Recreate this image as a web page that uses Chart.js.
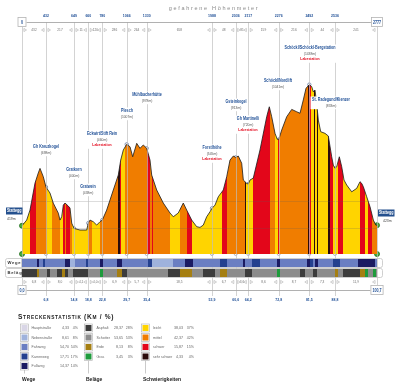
<!DOCTYPE html>
<html><head><meta charset="utf-8">
<script src="https://cdn.jsdelivr.net/npm/chart.js@4.4.1/dist/chart.umd.min.js"></script>
<style>
html,body{margin:0;padding:0;background:#fff;}
#wrap{position:relative;width:400px;height:389px;overflow:hidden;}
canvas{position:absolute;left:0;}
</style></head><body>
<div id="wrap">
<canvas id="main" width="400" height="389" style="top:0"></canvas>
<canvas id="strips" width="400" height="20" style="top:258px"></canvas>
</div>
<script>
// ---------------- DATA ----------------
const TOTAL_KM = 100.7;
const TOTAL_HM = 2777;
const startElev = 419;
const endElev = 423;
const startName = 'Stattegg';

// elevation profile (km, m)
const profKm = [0,1.33,2.27,3.69,4.62,5.11,6.04,6.81,7.94,8.88,10.30,10.78,11.26,11.72,12.20,13.13,13.62,14.10,14.75,16.45,18.35,18.81,19.29,20.22,21.19,22.13,22.78,24.02,25.90,27.32,28.00,28.74,29.70,30.64,31.40,32.54,33.47,34.41,35.37,36.31,36.79,38.21,40.08,41.98,42.92,44.33,45.75,46.72,48.14,49.56,50.49,51.43,52.39,53.33,53.90,54.75,55.68,57.10,58.07,59.00,59.94,60.62,61.36,62.32,62.78,63.74,64.19,64.67,65.61,67.51,69.41,70.15,70.83,71.77,72.42,72.82,73.67,75.09,76.51,77.92,78.86,79.79,80.56,81.50,82.18,82.63,83.11,83.59,84.05,84.73,85.95,86.89,87.85,88.31,88.79,89.27,90.01,90.69,91.34,92.11,93.53,94.94,95.88,96.36,96.82,97.78,98.72,99.66,100.35,100.7];
const profElev = [419,460,532,727,800,833,773,698,655,582,510,460,484,568,583,561,547,438,400,388,388,438,460,448,424,448,460,532,677,785,893,966,1007,989,917,1014,978,1002,978,893,785,677,583,511,484,511,583,532,460,412,407,424,484,520,545,568,628,677,773,893,922,913,922,870,749,725,720,749,763,966,1206,1278,1206,1086,1043,1041,1110,1206,1259,1242,1231,1327,1411,1438,1423,1386,1399,1303,1182,1098,1086,1067,917,857,833,845,917,845,749,713,664,689,737,725,701,628,556,460,424,423];

// waypoints
const wpName = ['Gh Kreuzkogel','Gratkorn','Gratwein','Eckwirt/Stift Rein','Plesch','Mühlbacherhütte','Forstlhöhe','Gsteinkogel','Gh Martinelli','Schöckl/Nordlift','Schöckl/Schöckl-Bergstation','St. Radegund/Kienzer'];
const wpKm = [6.81,14.75,18.81,22.78,29.70,35.37,53.90,60.62,64.19,72.82,81.50,88.79];
const wpElev = [698,400,438,460,1007,978,545,913,720,1041,1438,833];
const wpLabestation = [false,false,false,true,false,false,true,false,true,false,true,false];
const cumHm = [432,649,660,780,1066,1330,1988,2036,2117,2276,2492,2536];
const segHm = [432,217,11,120,286,264,658,48,81,159,216,44,241];
const cumKmLabels = ['6,8','14,8','18,8','22,8','29,7','35,4','53,9','60,6','64,2','72,8','81,5','88,8'];
const segKmLabels = ['6,8','8,0','4,1','4,0','6,9','5,7','18,5','6,7','3,6','8,6','8,7','7,3','11,9'];
const gridElev = [400,600];

// difficulty bands (km breaks, class per band)
const diffBreaks = [0,2.27,3.97,7.01,8.42,10.78,11.63,12.06,12.48,12.91,13.19,13.62,14.10,18.81,19.77,22.13,27.32,27.66,28.22,29.22,35.37,36.31,36.79,37.25,41.98,44.82,46.72,48.14,56.65,58.07,63.26,63.55,65.61,70.35,71.77,72.48,72.90,81.13,81.55,81.98,82.83,83.11,83.54,83.97,86.89,87.37,88.22,89.64,91.06,95.88,97.30,98.15,99.28,100.7];
const diffClass = ['L','S','M','L','M','L','S','M','S','L','S','M','L','M','L','M','X','S','L','M','S','M','S','M','L','M','S','L','S','M','X','L','S','M','L','S','M','X','S','L','X','L','X','L','X','S','L','S','L','S','L','S','M'];

// path type bands
const wegeBreaks = [0,4.25,4.82,5.96,6.52,12.20,13.62,15.03,18.15,18.72,22.13,22.98,26.95,28.37,35.74,36.88,42.83,46.24,48.51,56.16,58.15,62.69,63.26,65.24,67.51,72.33,73.18,80.84,81.69,82.54,83.11,83.97,88.22,90.21,95.31,100.13,100.7];
const wegeClass = ['F','P','F','K','F','P','N','F','K','F','P','F','P','F','K','N','F','P','F','K','F','P','F','K','F','P','F','P','K','F','P','F','K','F','P','F'];

// surface bands
const belagBreaks = [0,4.25,4.82,7.09,7.94,9.93,11.35,12.20,13.05,14.47,18.72,22.13,22.98,26.95,28.37,29.78,41.41,44.82,48.22,51.34,54.75,56.16,58.15,63.26,65.24,72.33,73.18,78.86,80.27,82.54,83.68,88.79,89.64,91.06,95.88,97.30,98.15,99.57,100.42,100.7];
const belagClass = ['A','E','S','A','S','A','E','A','S','A','S','G','S','E','A','S','A','E','S','A','S','E','S','A','S','G','S','A','S','A','S','E','S','A','E','G','S','G','S'];

// statistics
const wegeNames = ['Hauptstraße','Nebenstraße','Fahrweg','Karrenweg','Fußweg'];
const wegeKm = [4.33,8.61,54.70,17.71,14.37];
const wegePct = [4,8,54,17,14];
const belagNames = ['Asphalt','Schotter','Erde','Gras'];
const belagKm = [28.37,53.65,8.13,3.45];
const belagPct = [28,53,8,3];
const diffNames = ['leicht','mittel','schwer','sehr schwer'];
const diffKm = [38.03,42.37,15.87,4.33];
const diffPct = [37,42,15,4];

// ---------------- STYLE ----------------
const DIFF_COLORS = {L:'#FFD400', M:'#F07D00', S:'#E3061A', X:'#2A0B0B'};
const WEGE_COLORS = {H:'#D9D6E6', N:'#9FB2DC', F:'#6A7EC2', K:'#24408F', P:'#1B1B62'};
const BELAG_COLORS = {A:'#3C3C3C', S:'#8C8C8C', E:'#A57F12', G:'#1E9B3C'};
const WEGE_ORDER = ['H','N','F','K','P'];
const BELAG_ORDER = ['A','S','E','G'];
const DIFF_ORDER = ['L','M','S','X'];
const SANS = '"Liberation Sans","DejaVu Sans",sans-serif';
const BLUE = '#1f4f96';
const Y_MIN = 215, Y_MAX = 1890;
const TOP_AXIS_Y = 22, BOTTOM_AXIS_Y = 290;
const SQ = 0.8; // horizontal squeeze for condensed labels
// label anchor positions (layout only)
const LABEL_POS = [[46,147],[74,170],[88,187],[102,134],[127,111],[147,95],[212,148],[236,102],[248,119],[278,81],[310,48],[331,100]];

function hardGradient(g2d, scale, breaks, classes, colors) {
  const x0 = scale.left, x1 = scale.right, w = x1 - x0;
  const g = g2d.createLinearGradient(x0, 0, x1, 0);
  const f = v => Math.min(1, Math.max(0, (scale.getPixelForValue(v) - x0) / w));
  classes.forEach((c, i) => { g.addColorStop(f(breaks[i]), colors[c]); g.addColorStop(f(breaks[i + 1]), colors[c]); });
  return g;
}
function fmt(v) { return v.toFixed(2).replace('.', ','); }
// draw text with optional horizontal squeeze; returns drawn width
function txt(c, s, x, y, font, color, sq, align) {
  sq = sq || 1; align = align || 'center';
  c.save();
  c.font = font; c.fillStyle = color; c.textAlign = align; c.textBaseline = 'middle';
  c.translate(x, y); c.scale(sq, 1); c.fillText(s, 0, 0);
  const w = c.measureText(s).width * sq;
  c.restore();
  return w;
}
function tw(c, s, font, sq) { c.save(); c.font = font; const w = c.measureText(s).width * (sq || 1); c.restore(); return w; }
function tri(c, x, y, dir) {
  c.beginPath();
  c.moveTo(x - 1.3 * dir, y - 1.6); c.lineTo(x + 1.3 * dir, y); c.lineTo(x - 1.3 * dir, y + 1.6); c.closePath();
  c.strokeStyle = '#a0a0a0'; c.lineWidth = 0.5; c.stroke();
}
function box(c, x, y, s) {
  const f = 'bold 4.6px ' + SANS;
  const w = Math.max(9, tw(c, s, f, SQ) + 4);
  c.fillStyle = '#fff'; c.fillRect(x - w / 2, y - 5, w, 10);
  c.strokeStyle = '#b4b4b4'; c.lineWidth = 0.8; c.strokeRect(x - w / 2 + 0.5, y - 4.5, w - 1, 9);
  txt(c, s, x, y + 0.3, f, BLUE, SQ);
}
function hline(c, x0, x1, y, col, lw) { c.beginPath(); c.moveTo(x0, y); c.lineTo(x1, y); c.strokeStyle = col; c.lineWidth = lw; c.stroke(); }

const deco = {
  id: 'deco',
  afterDatasetDraw(chart, args) {
    if (args.index !== 0) return;
    const c = chart.ctx, xs = chart.scales.x, ys = chart.scales.y, a = chart.chartArea;
    c.save();
    gridElev.forEach(v => { const y = Math.round(ys.getPixelForValue(v)) + 0.5; hline(c, a.left, a.right, y, 'rgba(90,90,90,0.3)', 0.7); });
    c.strokeStyle = 'rgba(190,190,190,0.85)'; c.lineWidth = 0.8;
    wpKm.forEach(k => { const x = Math.round(xs.getPixelForValue(k)) + 0.5; c.beginPath(); c.moveTo(x, TOP_AXIS_Y); c.lineTo(x, 296); c.stroke(); });
    [0, TOTAL_KM].forEach(k => { const x = Math.round(xs.getPixelForValue(k)) + 0.5; c.beginPath(); c.moveTo(x, TOP_AXIS_Y); c.lineTo(x, BOTTOM_AXIS_Y); c.stroke(); });
    c.restore();
  },
  afterDraw(chart) {
    const c = chart.ctx, xs = chart.scales.x;
    const X = k => xs.getPixelForValue(k);
    const edges = [0, ...wpKm, TOTAL_KM];
    c.save();
    // title
    c.save();
    c.font = '5.5px ' + SANS; c.fillStyle = '#8a8a8a'; c.letterSpacing = '1.7px';
    c.textAlign = 'center'; c.textBaseline = 'middle';
    c.fillText('gefahrene Höhenmeter', 214, 8);
    c.restore();
    // top axis
    hline(c, X(0), X(TOTAL_KM), TOP_AXIS_Y + 0.5, '#a8a8a8', 0.9);
    wpKm.forEach((k, i) => txt(c, String(cumHm[i]), X(k), 15.5, 'bold 4.4px ' + SANS, BLUE, SQ));
    segHm.forEach((v, i) => txt(c, String(v), (X(edges[i]) + X(edges[i + 1])) / 2, 30, '4px ' + SANS, '#707070', SQ));
    edges.forEach((k, i) => { const x = X(k); if (i > 0) tri(c, x - 3.2, 30, -1); if (i < edges.length - 1) tri(c, x + 3.2, 30, 1); });
    box(c, X(0), TOP_AXIS_Y, '0');
    box(c, X(TOTAL_KM), TOP_AXIS_Y, String(TOTAL_HM));
    // bottom axis
    hline(c, X(0), X(TOTAL_KM), BOTTOM_AXIS_Y + 0.5, '#a8a8a8', 0.9);
    segKmLabels.forEach((v, i) => txt(c, v, (X(edges[i]) + X(edges[i + 1])) / 2, 282, '4px ' + SANS, '#707070', SQ));
    edges.forEach((k, i) => { const x = X(k); if (i > 0) tri(c, x - 3.2, 282, -1); if (i < edges.length - 1) tri(c, x + 3.2, 282, 1); });
    wpKm.forEach((k, i) => txt(c, cumKmLabels[i], X(k), 299.5, 'bold 4.4px ' + SANS, BLUE, SQ));
    box(c, X(0), BOTTOM_AXIS_Y, '0,0');
    box(c, X(TOTAL_KM), BOTTOM_AXIS_Y, String(TOTAL_KM).replace('.', ','));
    // waypoint labels
    wpName.forEach((name, i) => {
      const lines = [[name, 'bold 4.6px ' + SANS, BLUE], ['(' + wpElev[i] + 'm)', '4.2px ' + SANS, '#555']];
      if (wpLabestation[i]) lines.push(['Labestation', 'bold 4.3px ' + SANS, '#E3061A']);
      const cx = LABEL_POS[i][0], cy = LABEL_POS[i][1];
      let w = 0;
      lines.forEach(l => { w = Math.max(w, tw(c, l[0], l[1], SQ)); });
      c.fillStyle = '#fff'; c.fillRect(cx - w / 2 - 1.5, cy - 3.5, w + 3, lines.length * 5.6 + 1.5);
      lines.forEach((l, j) => txt(c, l[0], cx, cy + j * 5.6, l[1], l[2], SQ));
    });
    // start / end names
    const sw = 16.5;
    c.fillStyle = '#24508e'; c.fillRect(X(0) - sw + 0.5, 207.5, sw, 7);
    c.fillRect(X(TOTAL_KM) + 1, 209.5, sw, 7);
    txt(c, startName, X(0) - sw / 2 + 0.5, 211.1, 'bold 4.6px ' + SANS, '#fff', SQ);
    txt(c, startName, X(TOTAL_KM) + 1 + sw / 2, 213.1, 'bold 4.6px ' + SANS, '#fff', SQ);
    txt(c, startElev + 'm', X(0) - 15, 218.5, '4.3px ' + SANS, '#444', SQ, 'left');
    txt(c, endElev + 'm', X(TOTAL_KM) + 6, 220.5, '4.3px ' + SANS, '#444', SQ, 'left');
    // legend title (small caps)
    c.save();
    c.textAlign = 'left'; c.textBaseline = 'alphabetic'; c.fillStyle = '#222';
    c.letterSpacing = '0.7px';
    let tx = 18;
    const parts = [['S', 6.6], ['TRECKENSTATISTIK', 4.8], [' (K', 6.6], ['M', 4.8], [' / %)', 6.6]];
    parts.forEach(p => { c.font = 'bold ' + p[1] + 'px ' + SANS; c.fillText(p[0], tx, 319); tx += c.measureText(p[0]).width; });
    c.restore();
    const rowsY = [328, 337.5, 347, 356.5, 366];
    const cols = [
      {names: wegeNames, km: wegeKm, pct: wegePct, keys: WEGE_ORDER, colors: WEGE_COLORS, sx: 21, nx: 31.5, kx: 69, px: 78, title: 'Wege'},
      {names: belagNames, km: belagKm, pct: belagPct, keys: BELAG_ORDER, colors: BELAG_COLORS, sx: 85, nx: 96.5, kx: 123, px: 133, title: 'Beläge'},
      {names: diffNames, km: diffKm, pct: diffPct, keys: DIFF_ORDER, colors: DIFF_COLORS, sx: 142, nx: 153, kx: 183, px: 194, title: 'Schwierigkeiten'}
    ];
    cols.forEach(col => {
      const n = col.names.length;
      const lastY = rowsY[n - 1];
      c.strokeStyle = '#bdbdbd'; c.lineWidth = 0.8;
      c.beginPath(); c.moveTo(col.sx + 3.5, lastY + 4); c.lineTo(col.sx + 3.5, 373.5); c.stroke();
      col.names.forEach((nm, i) => {
        const y = rowsY[i];
        c.fillStyle = '#fff'; c.fillRect(col.sx - 0.5, y - 4, 8, 8);
        c.strokeStyle = '#b0b0b0'; c.lineWidth = 0.6; c.strokeRect(col.sx - 0.5, y - 4, 8, 8);
        c.fillStyle = col.colors[col.keys[i]]; c.fillRect(col.sx + 0.5, y - 3, 6, 6);
        txt(c, nm, col.nx, y, '3.9px ' + SANS, '#666', 0.92, 'left');
        txt(c, fmt(col.km[i]), col.kx, y, '3.9px ' + SANS, '#666', 0.92, 'right');
        txt(c, col.pct[i] + '%', col.px, y, '3.9px ' + SANS, '#666', 0.92, 'right');
      });
      txt(c, col.title, col.sx + 1, 379.5, 'bold 5px ' + SANS, '#222', 1, 'left');
    });
    c.restore();
  }
};

new Chart(document.getElementById('main'), {
  type: 'line',
  data: {
    datasets: [
      {
        data: profKm.map((k, i) => ({x: k, y: profElev[i]})),
        fill: 'start', borderColor: '#1b1b1b', borderWidth: 0.8, pointRadius: 0, tension: 0,
        backgroundColor: ctx => {
          const ch = ctx.chart;
          if (!ch.chartArea) return 'rgba(0,0,0,0)';
          return hardGradient(ch.ctx, ch.scales.x, diffBreaks, diffClass, DIFF_COLORS);
        }
      },
      {
        data: wpKm.map((k, i) => ({x: k, y: wpElev[i]})), showLine: false,
        pointRadius: 1.7, pointBackgroundColor: '#fff', pointBorderColor: '#6c7fa6', pointBorderWidth: 0.8, clip: false
      },
      {
        data: wpKm.map(k => ({x: k, y: Y_MIN})), showLine: false,
        pointRadius: 1.5, pointBackgroundColor: '#fff', pointBorderColor: '#8a96b0', pointBorderWidth: 0.7, clip: false
      },
      {
        data: [{x: 0, y: startElev}, {x: 0, y: Y_MIN}, {x: TOTAL_KM, y: endElev}, {x: TOTAL_KM, y: Y_MIN}], showLine: false,
        pointRadius: 2.5, pointBackgroundColor: '#45b03c', pointBorderColor: '#1f6b1c', pointBorderWidth: 0.8, clip: false
      }
    ]
  },
  options: {
    responsive: false, animation: false, devicePixelRatio: 1,
    layout: {padding: {left: 22, right: 23, top: 22, bottom: 135}},
    scales: {
      x: {type: 'linear', display: false, min: 0, max: TOTAL_KM},
      y: {display: false, min: Y_MIN, max: Y_MAX}
    },
    plugins: {legend: {display: false}, tooltip: {enabled: false}}
  },
  plugins: [deco]
});

const stripDeco = {
  id: 'stripDeco',
  beforeDatasetsDraw(chart) {
    const c = chart.ctx, ys = chart.scales.y;
    const labels = chart.data.labels;
    c.save();
    labels.forEach((lab, i) => {
      const yc = ys.getPixelForValue(i);
      c.strokeStyle = '#c4c4c4'; c.lineWidth = 0.8;
      c.beginPath(); c.roundRect(5.5, yc - 4.5, 377, 9, 2); c.stroke();
      c.beginPath(); c.moveTo(21.5, yc - 4.5); c.lineTo(21.5, yc + 4.5); c.stroke();
      c.save();
      c.font = 'bold 4.2px ' + SANS; c.fillStyle = '#333'; c.letterSpacing = '0.7px';
      c.textAlign = 'left'; c.textBaseline = 'middle';
      c.fillText(lab, 7.5, yc + 0.3);
      c.restore();
    });
    c.restore();
  }
};

new Chart(document.getElementById('strips'), {
  type: 'bar',
  data: {
    labels: ['Wege', 'Beläge'],
    datasets: [{
      data: [[0, TOTAL_KM], [0, TOTAL_KM]],
      borderWidth: 0, categoryPercentage: 1, barPercentage: 0.8,
      backgroundColor: ctx => {
        const ch = ctx.chart;
        if (!ch.chartArea) return '#888';
        return ctx.dataIndex === 0
          ? hardGradient(ch.ctx, ch.scales.x, wegeBreaks, wegeClass, WEGE_COLORS)
          : hardGradient(ch.ctx, ch.scales.x, belagBreaks, belagClass, BELAG_COLORS);
      }
    }]
  },
  options: {
    indexAxis: 'y', responsive: false, animation: false, devicePixelRatio: 1,
    layout: {padding: {left: 22, right: 23, top: 0, bottom: 0}},
    scales: {x: {type: 'linear', display: false, min: 0, max: TOTAL_KM}, y: {display: false}},
    plugins: {legend: {display: false}, tooltip: {enabled: false}}
  },
  plugins: [stripDeco]
});
</script>
</body></html>
